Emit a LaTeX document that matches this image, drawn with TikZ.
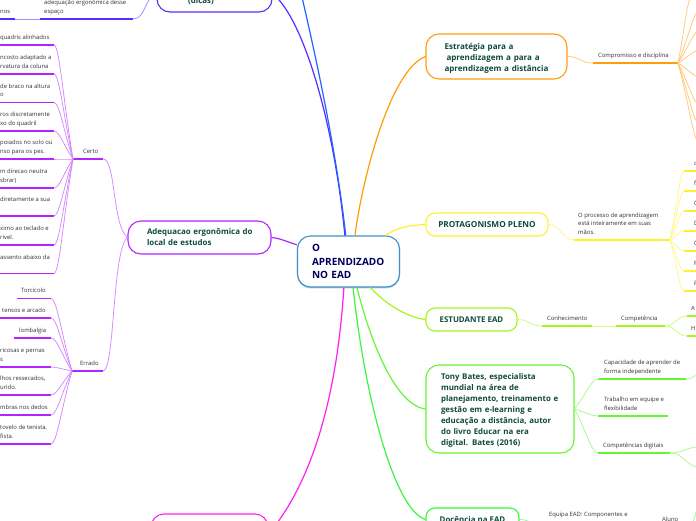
\documentclass[tikz,border=0pt]{standalone}
\usepackage{fontspec}
\setmainfont{Open Sans}
\usetikzlibrary{calc}
\definecolor{txtdark}{HTML}{333333}
\definecolor{boxtxt}{HTML}{0F4A3C}
\definecolor{cblue}{HTML}{3F8FCB}
\definecolor{cpurple}{HTML}{5B2CFF}
\definecolor{cblue2}{HTML}{1F66FF}
\definecolor{cviolet}{HTML}{B026FF}
\definecolor{cpink}{HTML}{FF1FEF}
\definecolor{corange}{HTML}{FF9C0A}
\definecolor{cyellow}{HTML}{FFF02E}
\definecolor{clime}{HTML}{A6F51F}
\definecolor{cgreen}{HTML}{66F533}
\definecolor{cgreen2}{HTML}{3DF53D}
\tikzset{
  mainbox/.style={draw=#1,line width=1.1pt,fill=white,rounded corners=13pt,inner sep=0pt,
    font=\fontsize{7.9}{11}\selectfont\bfseries,text=boxtxt,align=left},
  leaftext/.style={inner sep=0pt,font=\fontsize{5.9}{8.5}\selectfont,text=txtdark,align=left,text depth=1.5pt},
  under/.style={draw=#1,line width=1.3pt},
  branch/.style={draw=#1,line width=1.2pt},
  fanline/.style={draw=#1!55,line width=.75pt},
}
\newcommand{\leaf}[7]{% id, colour, x1, x2, y, textx, text
  \coordinate (#1-a) at (#3,#5);
  \coordinate (#1-b) at (#4,#5);
  \draw[under=#2] (#1-a) -- (#1-b);
  \node[leaftext,anchor=south west] (#1) at (#6,#5-4) {#7};
}
\newcommand{\fan}[3]{\draw[fanline=#1] (#2) .. controls ($(#2)!.5!(#3)$) and ($(#3)!.28!(#2 |- #3)$) .. (#3);}
\newcommand{\slink}[3]{\draw[fanline=#1] (#2) .. controls ($(#2)!.5!(#3 |- #2)$) and ($(#3)!.5!(#2 |- #3)$) .. (#3);}
\begin{document}
\begin{tikzpicture}[x=1pt,y=-1pt]
\useasboundingbox (0,0) rectangle (696,520);
\clip (0,0) rectangle (696,520);
\fill[white] (0,0) rectangle (696,520);

% central and first-level boxes
\node[mainbox=cblue,minimum width=102pt,minimum height=51pt,text width=73pt,text=black!20!blue!45!black,
  font=\fontsize{10}{13.4}\selectfont\bfseries,
  preaction={draw=cblue!45,line width=1.3pt,transform canvas={yshift=-.8pt}}]
  (central) at (348.5,261.5) {O\\APRENDIZADO\\NO EAD};
\node[mainbox=cpurple,minimum width=115pt,minimum height=37pt] (dicasbox) at (214.5,-6.5) {};
\node[inner sep=0pt,font=\fontsize{7.9}{11}\selectfont\bfseries,text=boxtxt] (dicas) at (201,1.5) {(dicas)};
\node[mainbox=cviolet,minimum width=143pt,minimum height=33pt,text width=110pt] (adeq) at (199.5,237.5) {\hspace*{2.5pt}Adequacao ergonômica do\\\hspace*{2.5pt}local de estudos};
\node[mainbox=cpink,minimum width=117pt,minimum height=40pt] (pinkbox) at (209.5,534) {};
\node[mainbox=corange,minimum width=141pt,minimum height=45pt,text width=108pt,font=\fontsize{8.05}{11}\selectfont\bfseries] (estr) at (496.5,56.5) {\rule{0pt}{9.5pt}\hspace*{2pt}Estratégia para a\\\hspace*{4pt}aprendizagem a para a\\\hspace*{2pt}aprendizagem a distância};
\node[mainbox=cyellow,rounded corners=9pt,minimum width=122pt,minimum height=23pt,align=center,font=\fontsize{8.25}{11}\selectfont\bfseries] (prot) at (487,224.5) {PROTAGONISMO PLENO};
\node[mainbox=clime,rounded corners=9pt,minimum width=91pt,minimum height=23pt,align=center] (estu) at (471.5,319.5) {ESTUDANTE EAD};
\node[mainbox=cgreen,minimum width=148pt,minimum height=88pt,text width=118pt] (tony) at (500,409) {\rule{0pt}{8.5pt}Tony Bates, especialista\\mundial na área de\\planejamento, treinamento e\\gestão em e-learning e\\educação a distância, autor\\do livro Educar na era\\digital. Bates (2016)};
\node[mainbox=cgreen2,rounded corners=9pt,minimum width=93pt,minimum height=23pt,align=center] (doce) at (472.5,519.5) {Docência na EAD};
\coordinate (blueend) at (298,-20);

% main branches
\draw[branch=cpurple] (central.98) .. controls (335,130) and (305,20) .. (dicasbox.east);
\draw[branch=cblue2] (central.96) .. controls (335,140) and (312,40) .. (blueend);
\draw[branch=corange] (central.76) .. controls (362,180) and (390,70) .. (estr.west);
\draw[branch=cyellow] (central.35.5) .. controls (395,228) and (410,225) .. (prot.west);
\draw[branch=clime] (central.-50) .. controls (385,303) and (405,317) .. (estu.west);
\draw[branch=cgreen] (central.-72) .. controls (370,340) and (395,405) .. (tony.west);
\draw[branch=cgreen2] (central.-80) .. controls (365,400) and (395,510) .. (doce.west);
\draw[branch=cpink] (central.-100) .. controls (338,380) and (318,475) .. (pinkbox.east);
\draw[branch=cviolet] (central.162) .. controls (290,243) and (280,238) .. (adeq.east);

% top purple leaves
\leaf{nos}{cpurple}{0}{15}{19}{0}{nos}
\leaf{adeqe}{cpurple}{40}{133}{19}{44}{adequação ergonômica desse\\espaço}
\slink{cpurple}{nos-b}{adeqe-a}
\draw[fanline=cpurple] (adeqe-b) .. controls (146,19) and (145,-4) .. (dicasbox.west);

% Certo / Errado
\leaf{certo}{cviolet}{73}{103}{159}{83}{Certo}
\leaf{errado}{cviolet}{72}{103}{371}{80}{Errado}
\draw[fanline=cviolet] (certo-b) .. controls (116,159) and (112,225) .. (adeq.west);
\draw[fanline=cviolet] (errado-b) .. controls (115,371) and (112,250) .. (adeq.west);

\leaf{ca}{cviolet}{0}{54}{45}{0}{quadris alinhados}
\leaf{cb}{cviolet}{0}{54}{74}{0}{ncosto adaptado a\\rvatura da coluna}
\leaf{cc}{cviolet}{0}{54}{102.5}{0}{de braco na altura\\o}
\leaf{cd}{cviolet}{0}{54}{131}{0}{ros discretamente\\xo do quadril}
\leaf{ce}{cviolet}{0}{54}{159}{0}{poiados no solo ou\\nso para os pes.}
\leaf{cf}{cviolet}{0}{54}{188}{0}{m direcao neutra\\sbrar)}
\leaf{cg}{cviolet}{0}{54}{216}{0}{diretamente a sua\\\phantom{x}}
\leaf{ch}{cviolet}{0}{54}{245}{0}{ximo ao teclado e\\rivel.}
\leaf{ci}{cviolet}{0}{54}{273.5}{0}{assento abaixo da\\\phantom{x}}
\foreach \n in {ca,cb,cc,cd,ce,cf,cg,ch,ci}{\fan{cviolet}{certo-a}{\n-b}}

\leaf{ea}{cviolet}{17}{51}{298.5}{21}{Torcicolo}
\leaf{eb}{cviolet}{0}{51}{318}{2}{tensos e arcado}
\leaf{ec}{cviolet}{14}{51}{338}{19}{lombalgia}
\leaf{ed}{cviolet}{0}{51}{367}{0}{ricosas e pernas\\s}
\leaf{ee}{cviolet}{0}{51}{395}{0}{lhos ressecados,\\urido.}
\leaf{ef}{cviolet}{0}{51}{415}{0}{mbras nos dedos}
\leaf{eg}{cviolet}{0}{51}{444}{0}{tovelo de tenista,\\fista.}
\foreach \n in {ea,eb,ec,ed,ee,ef,eg}{\fan{cviolet}{errado-a}{\n-b}}

% orange
\leaf{comp}{corange}{593}{678}{63}{598}{Compromisso e disciplina}
\slink{corange}{estr.east}{comp-a}
\coordinate (oa) at (691,-2);
\coordinate (ob) at (700,10);
\coordinate (oc) at (700,30);
\coordinate (od) at (700,50);
\coordinate (oe) at (700,77);
\coordinate (of) at (700,105);
\coordinate (og) at (700,125);
\coordinate (oh) at (700,144);
\foreach \n in {oa,ob,oc,od,oe,of,og,oh}{\fan{corange}{comp-b}{\n}}

% yellow
\leaf{proc}{cyellow}{574}{670}{240}{578}{O processo de aprendizagem\\está inteiramente em suas\\mãos.}
\slink{cyellow}{prot.east}{proc-a}
\leaf{ya}{cyellow}{684}{700}{171}{694}{c}
\leaf{yb}{cyellow}{684}{700}{191}{694}{f}
\leaf{yc}{cyellow}{684}{700}{211}{694}{C}
\leaf{yd}{cyellow}{684}{700}{231}{694}{D}
\leaf{ye}{cyellow}{684}{700}{251}{694}{C}
\leaf{yf}{cyellow}{684}{700}{271}{694}{F}
\leaf{yg}{cyellow}{684}{700}{291}{694}{P}
\foreach \n in {ya,yb,yc,yd,ye,yf,yg}{\fan{cyellow}{proc-b}{\n-a}}

% lime
\leaf{conh}{clime}{542}{592}{326}{547}{Conhecimento}
\leaf{comt}{clime}{616}{665}{326}{621}{Competência}
\slink{clime}{estu.east}{conh-a}
\slink{clime}{conh-b}{comt-a}
\leaf{la}{clime}{687}{700}{316}{691}{A}
\leaf{lb}{clime}{687}{700}{336}{691}{H}
\slink{clime}{comt-b}{la-a}
\slink{clime}{comt-b}{lb-a}

% green (Tony)
\leaf{ga}{cgreen}{598}{686}{379}{604}{Capacidade de aprender de\\forma independente}
\leaf{gb}{cgreen}{598}{668}{416}{604}{Trabalho em equipe e\\flexibilidade}
\leaf{gc}{cgreen}{598}{670}{453}{603}{Competências digitais}
\foreach \n in {ga,gb,gc}{\fan{cgreen}{tony.east}{\n-a}}
\coordinate (gd) at (700,375);
\coordinate (ge) at (700,447);
\coordinate (gf) at (700,467);
\slink{cgreen}{ga-b}{gd}
\slink{cgreen}{gc-b}{ge}
\slink{cgreen}{gc-b}{gf}

% docencia
\node[leaftext,anchor=south west] (equipa) at (549,518) {Equipa EAD: Componentes e};
\node[leaftext,anchor=south west] (aluno) at (662,523) {Aluno};
\coordinate (da) at (540,524);
\coordinate (db) at (690,530);
\coordinate (dc) at (697,510);
\slink{cgreen2}{doce.east}{da}
\draw[fanline=cgreen2] (db) .. controls (693,525) and (694,517) .. (dc);
\end{tikzpicture}
\end{document}
